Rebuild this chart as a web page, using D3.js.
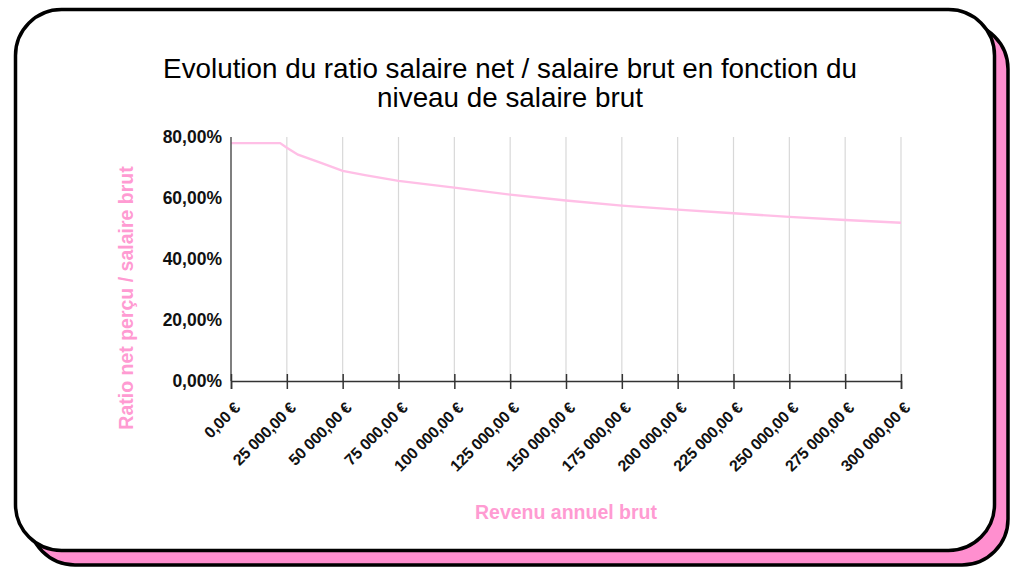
<!DOCTYPE html>
<html>
<head>
<meta charset="utf-8">
<script src="https://cdn.jsdelivr.net/npm/d3@7"></script>
<style>
  html, body { margin: 0; padding: 0; background: #ffffff; }
  svg { display: block; }
</style>
</head>
<body>
<svg id="chart" width="1024" height="576"></svg>
<script>
// ---- Data ----
const titleLines = ["Evolution du ratio salaire net / salaire brut en fonction du", "niveau de salaire brut"];
const xAxisTitle = "Revenu annuel brut";
const yAxisTitle = "Ratio net perçu / salaire brut";
const salaries = [0, 22000, 25000, 30000, 40000, 50000, 60000, 75000, 100000, 125000, 150000, 175000, 200000, 225000, 250000, 275000, 300000];
const ratios   = [78.0, 78.0, 76.5, 74.2, 71.6, 68.9, 67.5, 65.6, 63.4, 61.1, 59.2, 57.5, 56.2, 55.0, 53.8, 52.8, 51.9];
const xTicks = [0, 25000, 50000, 75000, 100000, 125000, 150000, 175000, 200000, 225000, 250000, 275000, 300000];
const yTicks = [0, 20, 40, 60, 80];

// ---- Layout ----
const svg = d3.select("#chart");
const FONT = "'Liberation Sans', Arial, Helvetica, sans-serif";
const PINK = "#ff9bd2";
const LINE = "#ffbfe6";

// card frame
svg.append("rect").attr("x", 29).attr("y", 23).attr("width", 979).attr("height", 542)
  .attr("rx", 46).attr("ry", 46).attr("fill", "#ff8fcf").attr("stroke", "#000").attr("stroke-width", 3.5);
svg.append("rect").attr("x", 15.5).attr("y", 9.5).attr("width", 979).attr("height", 541)
  .attr("rx", 46).attr("ry", 46).attr("fill", "#fff").attr("stroke", "#000").attr("stroke-width", 3.5);

const x = d3.scaleLinear().domain([0, 300000]).range([231, 901]);
const y = d3.scaleLinear().domain([0, 80]).range([381, 137]);

// title
const t = svg.append("text").attr("text-anchor", "middle").attr("font-family", FONT)
  .attr("font-size", 27.8).attr("fill", "#000");
titleLines.forEach((l, i) => {
  t.append("tspan").attr("x", 510).attr("y", 78 + i * 29).text(l);
});

// vertical gridlines
svg.append("g").selectAll("line").data(xTicks.slice(1)).join("line")
  .attr("x1", d => x(d)).attr("x2", d => x(d))
  .attr("y1", y(80)).attr("y2", y(0))
  .attr("stroke", "#d8d8d8").attr("stroke-width", 1.2);

// line
const line = d3.line().x((d, i) => x(salaries[i])).y(d => y(d));
svg.append("path").datum(ratios).attr("d", line)
  .attr("fill", "none").attr("stroke", LINE).attr("stroke-width", 2.4);

// y axis line
svg.append("line").attr("x1", x(0)).attr("x2", x(0)).attr("y1", y(80)).attr("y2", y(0))
  .attr("stroke", "#555").attr("stroke-width", 1.5);

// y labels
const fmtPct = d => d3.format(".2f")(d).replace(".", ",") + "%";
svg.append("g").selectAll("text").data(yTicks).join("text")
  .attr("x", 222).attr("y", d => y(d)).attr("dy", "0.35em")
  .attr("text-anchor", "end").attr("font-family", FONT).attr("font-weight", "bold")
  .attr("font-size", 17.5).attr("fill", "#111").text(fmtPct);

// x axis
const xAxis = d3.axisBottom(x).tickValues(xTicks).tickSize(8).tickFormat("");
const gx = svg.append("g").attr("transform", `translate(0,${y(0)})`).call(xAxis);
gx.select(".domain").attr("stroke", "#333").attr("stroke-width", 1.5);
gx.selectAll(".tick line").attr("stroke", "#333").attr("stroke-width", 1.5).attr("y1", -7);

const fmtEur = d => {
  const s = d3.format(",.2f")(d).replace(/,/g, " ").replace(".", ",");
  return s + " €";
};
svg.append("g").selectAll("text").data(xTicks).join("text")
  .attr("transform", d => `translate(${x(d) + 10},${y(0) + 28}) rotate(-45)`)
  .attr("text-anchor", "end").attr("font-family", FONT).attr("font-weight", "bold")
  .attr("font-size", 16).attr("letter-spacing", -0.3).attr("fill", "#111").text(fmtEur);

// axis titles
svg.append("text").attr("x", 566).attr("y", 519).attr("text-anchor", "middle")
  .attr("font-family", FONT).attr("font-weight", "bold").attr("font-size", 19.5)
  .attr("fill", PINK).text(xAxisTitle);
svg.append("text").attr("transform", "translate(133,298) rotate(-90)").attr("text-anchor", "middle")
  .attr("font-family", FONT).attr("font-weight", "bold").attr("font-size", 19.5)
  .attr("fill", PINK).text(yAxisTitle);
</script>
</body>
</html>
